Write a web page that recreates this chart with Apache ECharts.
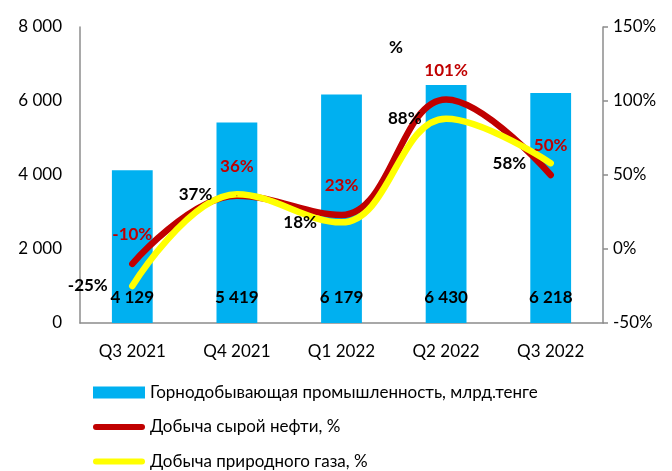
<!DOCTYPE html>
<html>
<head>
<meta charset="utf-8">
<script src="https://cdn.jsdelivr.net/npm/echarts@6/dist/echarts.min.js"></script>
<style>
  html, body { margin: 0; padding: 0; background: #fff; }
  #chart { width: 672px; height: 471px; }
</style>
</head>
<body>
<div id="chart"></div>
<script>
  const quarters = ['Q3 2021', 'Q4 2021', 'Q1 2022', 'Q2 2022', 'Q3 2022']
  const miningOutput = [4129, 5419, 6179, 6430, 6218]
  const oilGrowth = [-10, 36, 23, 101, 50]
  const gasGrowth = [-25, 37, 18, 88, 58]

  const font = 'Lato, "Open Sans", sans-serif'
  const chart = echarts.init(document.getElementById('chart'))

  // пробел как разделитель тысяч
  const fmtThousands = v => String(v).replace(/\B(?=(\d{3})+(?!\d))/g, ' ')
  // толстая линия со скруглёнными концами для легенды
  const lineIcon = 'path://M3,0 H49 A3,3 0 0 1 49,6 H3 A3,3 0 0 1 3,0 Z'

  chart.setOption({
    animation: false,
    textStyle: { fontFamily: font },
    title: {
      text: '%',
      left: 384,
      top: 34,
      textStyle: { fontSize: 17, fontWeight: 'bold', color: '#000', fontFamily: font }
    },
    grid: { left: 80, right: 69, top: 27, bottom: 148 },
    legend: {
      orient: 'vertical',
      left: 93,
      top: 384,
      height: 90,
      padding: 0,
      itemGap: 17.5,
      itemWidth: 52,
      itemHeight: 12,
      textStyle: { fontSize: 17, color: '#000', fontFamily: font },
      data: [
        { name: 'Горнодобывающая промышленность, млрд.тенге', icon: 'rect' },
        { name: 'Добыча сырой нефти, %', icon: lineIcon },
        { name: 'Добыча природного газа, %', icon: lineIcon }
      ]
    },
    xAxis: {
      type: 'category',
      data: quarters,
      axisLine: { lineStyle: { color: '#8c8c8c', width: 1.5 } },
      axisTick: { show: false },
      axisLabel: { fontSize: 17, color: '#000', margin: 20 }
    },
    yAxis: [
      {
        type: 'value',
        min: 0,
        max: 8000,
        interval: 2000,
        axisLine: { show: true, lineStyle: { color: '#8c8c8c', width: 1.5 } },
        axisTick: { show: false },
        splitLine: { show: false },
        axisLabel: { fontSize: 17, color: '#000', margin: 18, formatter: v => fmtThousands(v) }
      },
      {
        type: 'value',
        min: -50,
        max: 150,
        interval: 50,
        axisLine: { show: true, lineStyle: { color: '#8c8c8c', width: 1.5 } },
        axisTick: { show: true, length: 5, lineStyle: { color: '#8c8c8c', width: 1.5 } },
        splitLine: { show: false },
        axisLabel: { fontSize: 17, color: '#000', margin: 10, formatter: '{value}%' }
      }
    ],
    series: [
      {
        name: 'Горнодобывающая промышленность, млрд.тенге',
        type: 'bar',
        data: miningOutput,
        barWidth: '39%',
        itemStyle: { color: '#00B0F0' },
        label: {
          show: true,
          position: 'insideBottom',
          distance: 17,
          fontSize: 17,
          fontWeight: 'bold',
          color: '#000',
          formatter: p => fmtThousands(p.value)
        }
      },
      {
        name: 'Добыча сырой нефти, %',
        type: 'line',
        yAxisIndex: 1,
        data: oilGrowth,
        smooth: 0.4,
        symbol: 'circle',
        symbolSize: 1,
        lineStyle: { color: '#C00000', width: 6.5, cap: 'round' },
        itemStyle: { color: '#C00000' },
        label: {
          show: true,
          position: 'top',
          distance: 20,
          fontSize: 17,
          fontWeight: 'bold',
          color: '#C00000',
          formatter: '{c}%'
        }
      },
      {
        name: 'Добыча природного газа, %',
        type: 'line',
        yAxisIndex: 1,
        data: gasGrowth,
        smooth: 0.4,
        symbol: 'circle',
        symbolSize: 1,
        lineStyle: { color: '#FFFF00', width: 6.5, cap: 'round' },
        itemStyle: { color: '#FFFF00' },
        label: {
          show: true,
          position: 'left',
          distance: 24,
          fontSize: 17,
          fontWeight: 'bold',
          color: '#000',
          formatter: '{c}%'
        }
      }
    ]
  })
</script>
</body>
</html>
